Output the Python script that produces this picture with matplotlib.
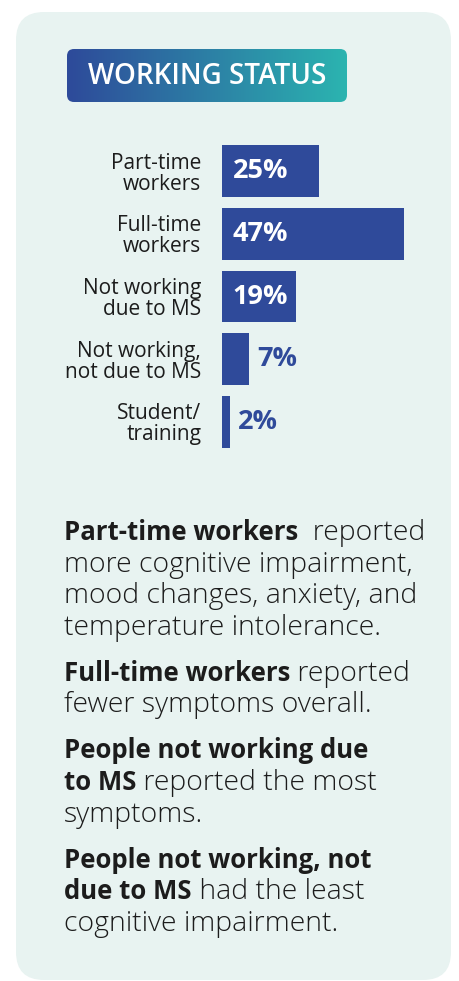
import matplotlib.pyplot as plt
import numpy as np
from matplotlib.patches import FancyBboxPatch

categories = ["Part-time\nworkers", "Full-time\nworkers", "Not working\ndue to MS",
              "Not working,\nnot due to MS", "Student/\ntraining"]
values = [25, 47, 19, 7, 2]
value_labels = ["25%", "47%", "19%", "7%", "2%"]

title = "WORKING STATUS"

# each paragraph is a list of lines, each line a list of (text, bold)
notes = [
    [[("Part-time workers", True), ("  reported", False)],
     [("more cognitive impairment,", False)],
     [("mood changes, anxiety, and", False)],
     [("temperature intolerance.", False)]],
    [[("Full-time workers", True), (" reported", False)],
     [("fewer symptoms overall.", False)]],
    [[("People not working due", True)],
     [("to MS", True), (" reported the most", False)],
     [("symptoms.", False)]],
    [[("People not working, not", True)],
     [("due to MS", True), (" had the least", False)],
     [("cognitive impairment.", False)]],
]

FONT = "Open Sans"
BAR = "#2f4a9a"
PANEL = "#e8f3f1"
INK = "#1c1c1c"

W, H = 459, 981
fig = plt.figure(figsize=(W / 100, H / 100), dpi=100)
fig.patch.set_facecolor("white")

# background axes in pixel coordinates, y going down
bg = fig.add_axes([0, 0, 1, 1])
bg.set_xlim(0, W)
bg.set_ylim(H, 0)
bg.axis("off")

bg.add_patch(FancyBboxPatch((16 + 28, 12 + 28), 435 - 56, 968 - 56,
                            boxstyle="round,pad=28", fc=PANEL, ec="none"))

# gradient title box
box = FancyBboxPatch((67 + 7, 49 + 7), 280 - 14, 53 - 14,
                     boxstyle="round,pad=7", fc="none", ec="none")
bg.add_patch(box)
grad = np.linspace(0, 1, 256).reshape(1, -1)
cmap = plt.matplotlib.colors.LinearSegmentedColormap.from_list("g", ["#2e4a9a", "#2bb4b0"])
im = bg.imshow(grad, cmap=cmap, extent=[67, 347, 102, 49], aspect="auto", zorder=2)
im.set_clip_path(box)
bg.text(207, 76, title, color="white", fontsize=20, fontweight="semibold",
        family=FONT, ha="center", va="center", zorder=3)

# bar chart
ax = fig.add_axes([222 / W, 1 - 453 / H, 200 / W, (453 - 140) / H])
ax.set_facecolor("none")
y = np.arange(len(values))
ax.barh(y, values, height=0.825, color=BAR)
ax.set_xlim(0, 200 / 3.88)
ax.set_ylim(len(values) - 0.5, -0.5)
for s in ax.spines.values():
    s.set_visible(False)
ax.set_xticks([])
ax.set_yticks(y)
ax.set_yticklabels(categories, family=FONT, fontsize=15, color=INK, linespacing=1.0)
ax.tick_params(axis="y", length=0, pad=15)
for yi, v, lab in zip(y, values, value_labels):
    if v > 10:
        ax.text(2.8, yi, lab, color="white", fontsize=19.5, fontweight="bold",
                family=FONT, ha="left", va="center")
    else:
        ax.text(v + 2.2, yi, lab, color=BAR, fontsize=19.5, fontweight="bold",
                family=FONT, ha="left", va="center")

# notes with mixed bold / regular runs, aligned on a shared baseline
fig.canvas.draw()
r = fig.canvas.get_renderer()
line_gap = 31.6
para_gap = 46
ty = 540
for para in notes:
    for line in para:
        x = 64
        for txt, bold in line:
            if bold:
                t = bg.text(x, ty, txt, family=FONT, fontsize=18.5, color=INK,
                            fontweight="bold", ha="left", va="baseline")
            else:
                t = bg.text(x, ty, txt, family=FONT, fontsize=20.4, color=INK,
                            fontweight="light", ha="left", va="baseline")
            bb = t.get_window_extent(renderer=r)
            x += bb.width * W / fig.bbox.width
        ty += line_gap
    ty += para_gap - line_gap

fig.savefig("out.png", dpi=100)
